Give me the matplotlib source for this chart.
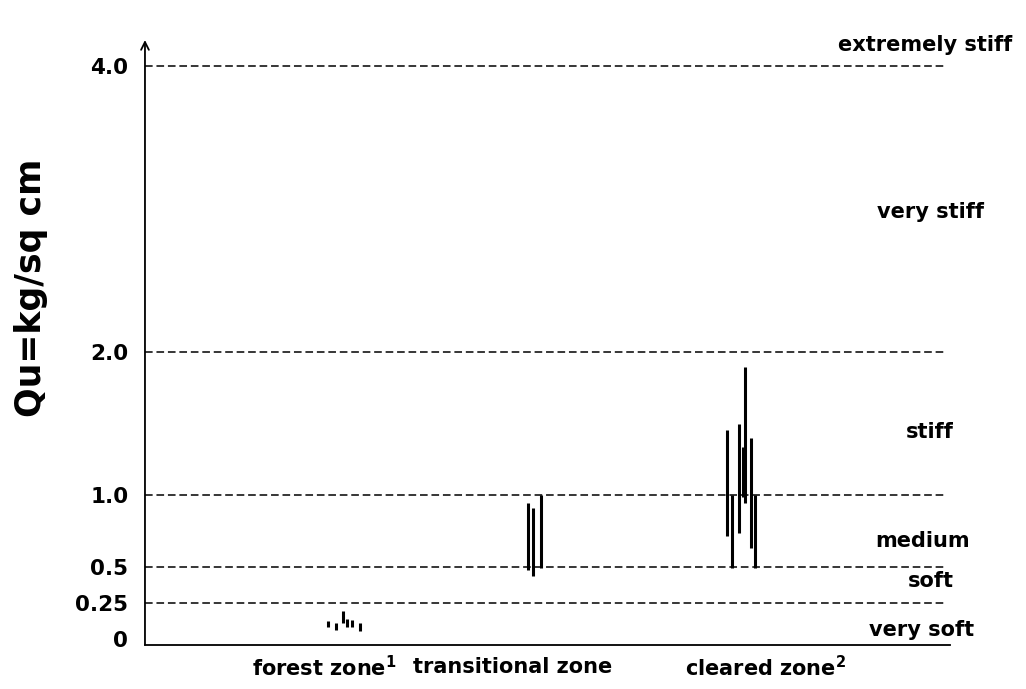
#!/usr/bin/env python3
"""Qu (kg/sq cm) por zona: faixas de resistência e classes de consistência."""

import matplotlib
matplotlib.use("Agg")
import matplotlib.pyplot as plt

# --- dados ---
# faixas verticais (x em escala 0-100, min e max de Qu)
forest_x = [22.7, 23.7, 24.6, 25.1, 25.7, 26.7]
forest_lo = [0.08, 0.06, 0.11, 0.08, 0.08, 0.05]
forest_hi = [0.12, 0.11, 0.19, 0.14, 0.13, 0.11]

trans_x = [47.6, 48.2, 49.2]
trans_lo = [0.48, 0.44, 0.49]
trans_hi = [0.95, 0.91, 1.00]

cleared_x = [72.3, 72.9, 73.7, 74.2, 74.5, 75.2, 75.8]
cleared_lo = [0.72, 0.49, 0.74, 0.99, 0.95, 0.63, 0.49]
cleared_hi = [1.46, 1.00, 1.50, 1.34, 1.90, 1.40, 1.00]

# linhas de referência e rótulos do eixo y
ref_levels = [0.25, 0.5, 1.0, 2.0, 4.0]
ytick_vals = [0, 0.25, 0.5, 1.0, 2.0, 4.0]
ytick_labels = ["0", "0.25", "0.5", "1.0", "2.0", "4.0"]

# classes de consistência (texto, posição y)
classes = ["extremely stiff", "very stiff", "stiff", "medium", "soft", "very soft"]
class_y = [4.15, 2.98, 1.44, 0.68, 0.40, 0.06]
class_x = [96.9, 97.5, 97.4, 96.6, 97.6, 96.4]

zones = ["forest zone$^{\\mathbf{1}}$", "transitional zone", "cleared zone$^{\\mathbf{2}}$"]
zone_x = [22.2, 45.6, 77.1]


def main():
    fig = plt.figure(figsize=(10.26, 6.89), dpi=100)
    ax = fig.add_axes([0.1413, 0.0639, 0.785, 0.878])
    ax.set_xlim(0, 100)
    ax.set_ylim(-0.045, 4.183)

    for lvl in ref_levels:
        ax.plot([0, 99.4], [lvl, lvl], color="black", linestyle=(0, (5, 2.5)),
                linewidth=1.1)

    ax.vlines(forest_x, forest_lo, forest_hi, color="black", linewidth=2.2)
    ax.vlines(trans_x, trans_lo, trans_hi, color="black", linewidth=2.2)
    ax.vlines(cleared_x, cleared_lo, cleared_hi, color="black", linewidth=2.2)

    for spine in ["top", "right", "left"]:
        ax.spines[spine].set_visible(False)
    ax.spines["bottom"].set_linewidth(1.3)
    ax.annotate("", xy=(0, 1.0), xytext=(0, 0), xycoords="axes fraction",
                arrowprops=dict(arrowstyle="->", color="black", lw=1.3,
                                mutation_scale=14, shrinkA=0, shrinkB=0))

    ax.set_xticks([])
    ax.set_yticks(ytick_vals)
    ax.set_yticklabels(ytick_labels, fontsize=15.5, fontweight="bold")
    ax.tick_params(axis="y", length=0, pad=12)

    ax.set_ylabel("Qu=kg/sq cm", fontsize=25, fontweight="bold")
    ax.yaxis.set_label_coords(-0.12, 0.59)

    for txt, x, y in zip(classes, class_x, class_y):
        ax.text(x, y, txt, ha="center", va="center", fontsize=15,
                fontweight="bold", clip_on=False)

    for txt, x in zip(zones, zone_x):
        ax.text(x, -0.2, txt, ha="center", va="center", fontsize=15,
                fontweight="bold", clip_on=False)

    fig.savefig("out.png", dpi=100)


if __name__ == "__main__":
    main()
